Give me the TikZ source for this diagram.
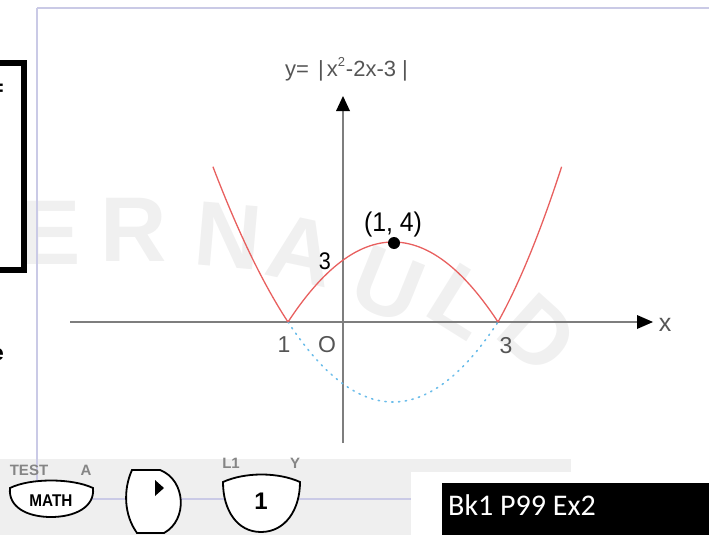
\documentclass[tikz,border=0pt]{standalone}
\usepackage{fontspec}
\setmainfont{Liberation Sans}
\newfontfamily\bkfont{Carlito}
\begin{document}
\begin{tikzpicture}[x=1pt,y=-1pt,
  frameline/.style={draw=frm,line width=1.4},
  axisline/.style={draw=axg,line width=2.2},
  curve/.style={draw=crv,line width=1.3},
  dotcurve/.style={draw=blu,line width=1.6,dash pattern=on 1.3pt off 5.5pt,line cap=round},
  wm/.style={text=wmk,font=\fontsize{92}{92}\selectfont\bfseries,inner sep=0},
  glbl/.style={text=txg,inner sep=0},
  blbl/.style={text=black,inner sep=0},
  btn/.style={draw=black,fill=white,line width=1.8},
  keytop/.style={text=keyg,font=\fontsize{15}{15}\selectfont\bfseries,inner sep=0}]
\definecolor{frm}{HTML}{CACAE6}
\definecolor{axg}{HTML}{7E7E7E}
\definecolor{crv}{HTML}{E8605F}
\definecolor{blu}{HTML}{6CBDEA}
\definecolor{wmk}{HTML}{F0F0F0}
\definecolor{txg}{HTML}{555555}
\definecolor{keyg}{HTML}{858585}
\definecolor{strip}{HTML}{EFEFEF}
\useasboundingbox (0,0) rectangle (709,535);
% watermark
\node[wm] (wE) at (50,233) {E};
\node[wm] (wR) at (134,230) {R};
\node[wm,rotate=-5] (wN) at (228,236) {N};
\node[wm,rotate=-12] (wA) at (302,250) {A};
\node[wm,rotate=-22] (wU) at (388,285) {U};
\node[wm,rotate=-32] (wL) at (462,302) {L};
\node[wm,rotate=-42] (wD) at (538,334) {D};
% left cut-off box and fragments
\draw[line width=6] (-10,63) -- (24,63) -- (24,270) -- (-10,270);
\node[blbl,anchor=east,font=\fontsize{22}{22}\selectfont\bfseries] (fr1) at (4,90) {=};
\node[blbl,anchor=east,font=\fontsize{22}{22}\selectfont\bfseries] (fr2) at (4,355) {e};
% bottom strip
\fill[strip] (0,459) rectangle (571,535);
% frame
\draw[frameline] (37,8) -- (709,8);
\draw[frameline] (37,8) -- (37,499) -- (411,499);
% axes
\draw[axisline] (70,322) -- (640,322);
\fill[black] (653,322) -- (637,315) -- (637,329) -- cycle;
\draw[axisline] (343,443) -- (343,108);
\fill[black] (343,96) -- (336,111) -- (350,111) -- cycle;
% curves
\draw[dotcurve] plot[domain=-1:3,samples=60] ({340.5+52.5*\x},{322+20*(4-(\x-1)^2)});
\draw[curve] plot[domain=-2.43:-1,samples=30] ({340.5+52.5*\x},{322-20*(\x*\x-2*\x-3)});
\draw[curve] plot[domain=-1:3,samples=60] ({340.5+52.5*\x},{322-20*(4-(\x-1)^2)});
\draw[curve] plot[domain=3:4.43,samples=30] ({498+44.5*(\x-3)},{322-20*(\x*\x-2*\x-3)});
\fill[black] (394,243) circle (6);
% labels
\node[glbl,font=\fontsize{22}{22}\selectfont,anchor=base west] (title) at (285,77) {y=\hspace{9pt}|\hspace{3pt}x\raisebox{10pt}{\fontsize{13}{13}\selectfont 2}\hspace{1pt}-2x-3\hspace{6pt}|};
\node[blbl,font=\fontsize{27}{27}\selectfont,xscale=0.92] (pt) at (393,225) {(1, 4)};
\node[blbl,font=\fontsize{24}{24}\selectfont,xscale=0.9] (y3) at (325,261) {3};
\node[glbl,font=\fontsize{23}{23}\selectfont] (xm1) at (284,345) {1};
\node[glbl,font=\fontsize{23}{23}\selectfont] (orig) at (327,345) {O};
\node[glbl,font=\fontsize{23}{23}\selectfont] (x3) at (506,346) {3};
\node[glbl,font=\fontsize{25}{25}\selectfont] (xl) at (665,325) {x};
% keys
\node[keytop] (test) at (29,470) {TEST};
\node[keytop] (ka) at (86,470) {A};
\node[keytop] (kl1) at (231,463) {L1};
\node[keytop] (ky) at (295,463) {Y};
\draw[btn] (10,488) .. controls (30,478) and (72,478) .. (93,488) .. controls (95,507) and (75,517) .. (51,517) .. controls (27,517) and (8,507) .. (10,488) -- cycle;
\node[blbl,font=\fontsize{17}{17}\selectfont\bfseries,xscale=0.9] (kmath) at (51,501) {MATH};
\draw[btn] (132,470) -- (160,470) .. controls (186,480) and (188,520) .. (164,533) -- (137,533) .. controls (124,515) and (123,490) .. (132,470) -- cycle;
\fill[black] (155,480) -- (155,496) -- (164,488) -- cycle;
\draw[btn] (223,482) .. controls (245,472) and (278,472) .. (300,482) .. controls (300,510) and (285,532) .. (261,532) .. controls (237,532) and (223,510) .. (223,482) -- cycle;
\node[blbl,font=\fontsize{24}{24}\selectfont\bfseries] (k1) at (261,501) {1};
% right boxes
\fill[white] (411,472) rectangle (709,535);
\fill[black] (442,483) rectangle (709,535);
\node[text=white,anchor=base west,inner sep=0,font=\bkfont\fontsize{30}{30}\selectfont] (bk) at (448,515) {Bk1 P99 Ex2};
\end{tikzpicture}
\end{document}
